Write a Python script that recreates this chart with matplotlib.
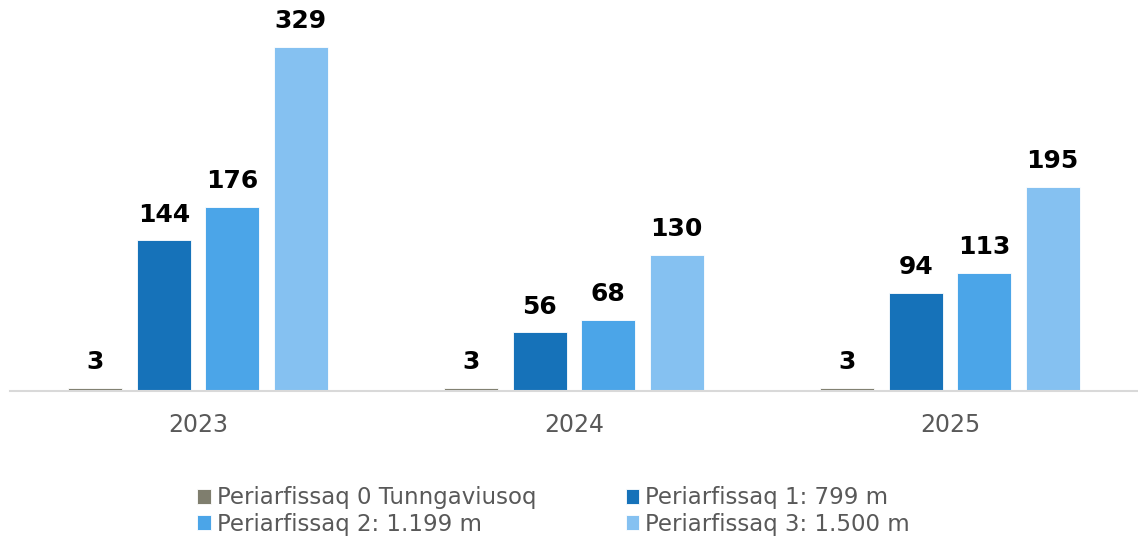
import numpy as np
import matplotlib
matplotlib.use("Agg")
import matplotlib.pyplot as plt

plt.rcParams["font.family"] = "DejaVu Sans"

years = ["2023", "2024", "2025"]
series = ["Periarfissaq 0 Tunngaviusoq", "Periarfissaq 1: 799 m",
          "Periarfissaq 2: 1.199 m", "Periarfissaq 3: 1.500 m"]
p0 = [3, 3, 3]
p1 = [144, 56, 94]
p2 = [176, 68, 113]
p3 = [329, 130, 195]
colors = ["#7f7e6e", "#1672b9", "#4ba5e8", "#85c1f1"]

fig = plt.figure(figsize=(11.38, 5.39), dpi=100)
ax = fig.add_axes([10 / 1138, 148 / 539, 1128 / 1138, 391 / 539])

x = np.arange(len(years))
w = 0.143
step = 0.182
handles = []
for i, (vals, col) in enumerate(zip([p0, p1, p2, p3], colors)):
    pos = x + (i - 1.5) * step
    b = ax.bar(pos, vals, w, color=col, edgecolor="white", linewidth=0.6, label=series[i])
    handles.append(b)
    for xp, v in zip(pos, vals):
        ax.annotate(str(v), (xp, v), xytext=(0, 10), textcoords="offset points",
                    ha="center", va="bottom", fontsize=18, fontweight="bold",
                    color="black")

ax.set_xlim(-0.5, 2.5)
ax.set_ylim(0, 374)
ax.set_xticks(x)
ax.set_xticklabels(years, fontsize=17, color="#595959")
ax.tick_params(axis="x", length=0, pad=16)
ax.set_yticks([])
for s in ["top", "right", "left"]:
    ax.spines[s].set_visible(False)
ax.spines["bottom"].set_color("#d9d9d9")
ax.spines["bottom"].set_linewidth(1.5)

order = [0, 2, 1, 3]
leg = fig.legend([handles[i] for i in order], [series[i] for i in order],
                 ncol=2, loc="center left", bbox_to_anchor=(197 / 1138, 0.052), frameon=False,
                 fontsize=16.5, handlelength=0.6, handleheight=0.6, handletextpad=0.26,
                 columnspacing=3.9, labelspacing=0.14, borderpad=0, borderaxespad=0,
                 labelcolor="#595959")

fig.savefig("out.png", dpi=100)
